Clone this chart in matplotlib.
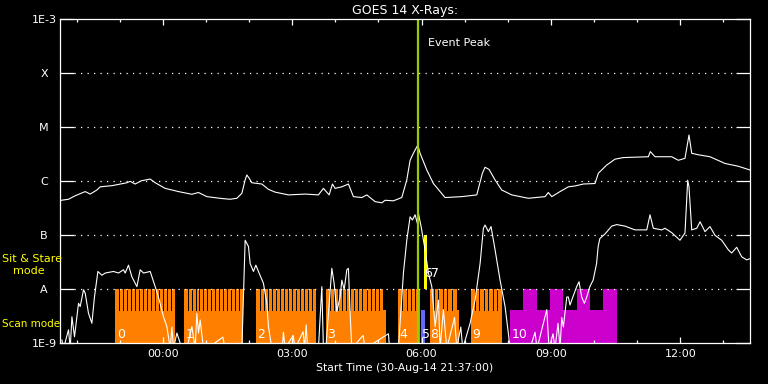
import matplotlib
matplotlib.use("Agg")
import matplotlib.pyplot as plt
from matplotlib.ticker import FixedLocator, NullLocator

# times are hours from 00:00 on 31-Aug-14 (plot starts 30-Aug-14 21:37)
t_start = -2.3833
t_end = 13.6167
peak_time = 5.92

floor = 8e-10  # below plot range

# GOES long channel (1-8 A)
long_t = [-2.355, -2.186, -2.031, -1.799, -1.683, -1.528, -1.451, -1.180, -0.832, -0.756,
          -0.640, -0.501, -0.292, -0.176, 0.056, 0.364, 0.675, 0.828, 1.022, 1.370,
          1.562, 1.718, 1.834, 1.910, 1.949, 2.003, 2.065, 2.297, 2.450, 2.605,
          2.914, 3.301, 3.609, 3.725, 3.857, 3.934, 3.996, 4.152, 4.305, 4.420,
          4.615, 4.731, 4.923, 5.079, 5.155, 5.348, 5.542, 5.658, 5.735, 5.811,
          5.913, 5.967, 6.122, 6.275, 6.546, 6.933, 7.281, 7.411, 7.473, 7.566,
          7.705, 7.860, 8.092, 8.477, 8.864, 8.941, 9.020, 9.212, 9.404, 9.560,
          9.752, 10.023, 10.100, 10.294, 10.487, 10.679, 11.259, 11.305, 11.414, 11.801,
          11.954, 12.109, 12.202, 12.265, 12.418, 12.689, 13.037, 13.345, 13.616]
long_f = [4.45e-7, 4.65e-7, 5.4e-7, 6.45e-7, 5.8e-7, 6.9e-7, 7.9e-7, 8.3e-7, 9.4e-7, 1.0e-6,
          8.9e-7, 1.02e-6, 1.1e-6, 9.4e-7, 7.4e-7, 6.45e-7, 5.75e-7, 6.2e-7, 5.2e-7, 4.8e-7,
          4.65e-7, 4.85e-7, 6.0e-7, 1.06e-6, 1.31e-6, 1.14e-6, 9.4e-7, 8.9e-7, 7.1e-7, 6.3e-7,
          5.6e-7, 5.8e-7, 5.6e-7, 7.4e-7, 5.6e-7, 8.9e-7, 7.4e-7, 7.9e-7, 8.9e-7, 5.2e-7,
          5.0e-7, 5.6e-7, 4.2e-7, 4.0e-7, 4.45e-7, 4.35e-7, 5.0e-7, 1.06e-6, 2.45e-6, 3.3e-6,
          4.7e-6, 3.3e-6, 1.62e-6, 9.1e-7, 5.0e-7, 5.2e-7, 5.6e-7, 1.41e-6, 1.82e-6, 1.66e-6,
          1.06e-6, 6.9e-7, 5.6e-7, 4.85e-7, 5.2e-7, 6.2e-7, 5.2e-7, 6.45e-7, 7.9e-7, 8.2e-7,
          8.9e-7, 9.1e-7, 1.41e-6, 2.0e-6, 2.57e-6, 2.75e-6, 2.85e-6, 3.55e-6, 2.85e-6, 2.85e-6,
          2.45e-6, 2.66e-6, 7.2e-6, 3.3e-6, 3.1e-6, 2.85e-6, 2.14e-6, 1.9e-6, 1.62e-6]

# GOES short channel (0.5-4 A)
short_t = [-2.339, -2.302, -2.186, -2.146, -2.107, -2.047, -1.954, -1.915, -1.838, -1.799,
           -1.723, -1.644, -1.584, -1.505, -1.412, -1.335, -1.143, -1.027, -0.911, -0.872,
           -0.795, -0.716, -0.600, -0.524, -0.447, -0.292, -0.176, -0.100, 0.016, 0.095,
           0.172, 0.211, 0.248, 0.327, 0.443, 0.559, 0.675, 0.751, 0.790, 0.828,
           0.867, 0.943, 1.030, 1.393, 1.446, 1.834, 1.910, 1.987, 2.026, 2.102,
           2.158, 2.218, 2.334, 2.413, 2.450, 2.529, 2.768, 2.798, 2.837, 3.023,
           3.069, 3.254, 3.289, 3.324, 3.359, 3.609, 3.688, 3.725, 3.781, 3.920,
           3.973, 4.036, 4.112, 4.152, 4.206, 4.268, 4.305, 4.344, 4.383, 4.645,
           4.690, 5.232, 5.260, 5.464, 5.580, 5.658, 5.735, 5.788, 5.851, 5.904,
           5.927, 5.990, 6.083, 6.159, 6.238, 6.315, 6.392, 6.431, 6.507, 6.585,
           6.766, 6.817, 6.910, 6.956, 7.126, 7.242, 7.358, 7.434, 7.473, 7.550,
           7.612, 7.705, 7.821, 7.937, 8.013, 8.053, 8.516, 8.632, 8.679, 8.904,
           8.957, 9.049, 9.096, 9.165, 9.212, 9.251, 9.289, 9.368, 9.404, 9.443,
           9.497, 9.598, 9.652, 9.714, 9.775, 9.831, 9.903, 9.980, 10.059, 10.096,
           10.135, 10.255, 10.410, 10.526, 10.718, 10.950, 11.222, 11.298, 11.375, 11.570,
           11.645, 11.801, 11.993, 12.109, 12.172, 12.202, 12.265, 12.381, 12.459, 12.573,
           12.689, 12.805, 12.960, 13.113, 13.192, 13.308, 13.424, 13.540, 13.616]
short_f = [1.15e-9, floor, 1.78e-9, floor, 3.1e-9, 1.32e-9, 5.5e-9, 4.8e-9, 9.8e-9, 8.5e-9,
           3.6e-9, 2.35e-9, 7.2e-9, 2.14e-8, 1.82e-8, 2.0e-8, 2.14e-8, 2.0e-8, 2.3e-8, 2.0e-8,
           2.8e-8, 1.7e-8, 1.12e-8, 2.3e-8, 2.0e-8, 2.14e-8, 1.12e-8, 7.2e-9, 3.1e-9, 2.04e-9,
           floor, 2.0e-9, floor, 1.55e-9, floor, floor, 2.04e-9, floor, 3.6e-9, 1.55e-9,
           2.7e-9, floor, floor, 1.3e-9, floor, floor, 8.1e-8, 6.2e-8, 3.0e-8, 2.14e-8,
           2.8e-8, 2.14e-8, 1.29e-8, 5.5e-9, 2.04e-9, floor, floor, 1.6e-9, floor, 1.4e-9,
           floor, 1.64e-9, floor, 2.2e-9, floor, floor, 1.12e-8, floor, floor, 2.45e-8,
           1.29e-8, 3.9e-9, 7.2e-9, 1.48e-8, 9.8e-9, 2.3e-8, 2.45e-8, 3.6e-9, floor, 1.4e-9,
           floor, 1.5e-9, floor, floor, 2.0e-8, 8.1e-8, 2.2e-7, 1.92e-7, 2.4e-7, 1.66e-7,
           2.57e-7, 1.45e-7, 5.4e-8, 2.0e-8, 1.12e-8, 2.04e-9, 6.3e-9, floor, 4.2e-9, floor,
           3.0e-9, floor, 2.0e-9, floor, 2.35e-9, 6.3e-9, 3.0e-8, 1.35e-7, 1.55e-7, 1.17e-7,
           1.45e-7, 5.4e-8, 1.48e-8, 4.8e-9, 1.55e-9, floor, floor, 1.6e-9, floor, 4.2e-9,
           floor, 1.5e-9, floor, 2.35e-9, floor, 3.0e-9, 2.0e-9, 7.2e-9, 7.2e-9, 5.1e-9,
           6.8e-9, 1.12e-8, 1.38e-8, 7.2e-9, 5.5e-9, 7.2e-9, 1.12e-8, 1.48e-8, 3.0e-8, 6.2e-8,
           8.7e-8, 1.06e-7, 1.48e-7, 1.58e-7, 1.48e-7, 1.26e-7, 1.26e-7, 2.4e-7, 1.35e-7, 1.26e-7,
           1.35e-7, 1.12e-7, 8.1e-8, 1.1e-7, 1.05e-6, 7.9e-7, 1.26e-7, 1.35e-7, 1.78e-7, 1.17e-7,
           1.45e-7, 1.0e-7, 8.1e-8, 5.4e-8, 4.7e-8, 6.0e-8, 4.0e-8, 3.5e-8, 3.7e-8]

# IRIS scan-mode observations (orange)
scan_start = [-1.103, 0.496, 2.165, 3.788, 5.464, 6.198, 7.149]
scan_raster_end = [0.287, 1.871, 3.556, 5.116, 5.967, 6.818, 7.874]
scan_end = [0.287, 1.871, 3.556, 5.178, 5.967, 6.878, 7.874]
scan_rasters = [15, 15, 15, 14, 5, 6, 7]

# other observations
blue_obs = (5.983, 6.083)
sns_obs = (6.059, 6.122)
magenta_start = 8.053
magenta_end = 10.526
magenta_high = [False, True, False, True, False, True, False, True]

# obs number labels: (text, time, mode)
obs_labels = [("0", -1.07, "scan"), ("1", 0.54, "scan"), ("2", 2.18, "scan"),
              ("3", 3.80, "scan"), ("4", 5.48, "scan"), ("5", 6.00, "scan"),
              ("6", 6.07, "sns"), ("7", 6.22, "sns"), ("8", 6.21, "scan"),
              ("9", 7.17, "scan"), ("10", 8.10, "scan")]

class_levels = [1e-9, 1e-8, 1e-7, 1e-6, 1e-5, 1e-4, 1e-3]
class_names = ["1E-9", "A", "B", "C", "M", "X", "1E-3"]
hour_ticks = [0, 3, 6, 9, 12]
hour_names = ["00:00", "03:00", "06:00", "09:00", "12:00"]

ORANGE = "#FF8000"
MAGENTA = "#CC00CC"
BLUE = "#6666FF"
YELLOW = "#FFFF00"
GREEN = "#99CC00"
scan_top = 4.1e-9
a_top = 1e-8
b_top = 1e-7
low = 1e-10

plt.rcParams["font.family"] = "DejaVu Sans"
plt.rcParams["font.size"] = 8

fig = plt.figure(figsize=(7.68, 3.84), dpi=100, facecolor="black")
ax = fig.add_axes([60 / 768, 1 - 343.3 / 384, 690 / 768, 324 / 384])
ax.set_facecolor("black")
ax.set_yscale("log")
ax.set_xlim(t_start, t_end)
ax.set_ylim(1e-9, 1e-3)

# scan blocks: base, raster comb up to A level, thin gaps between rasters
for s, re, e, n in zip(scan_start, scan_raster_end, scan_end, scan_rasters):
    ax.bar(s, scan_top - low, e - s, bottom=low, align="edge", color=ORANGE,
           linewidth=0, antialiased=False)
    ax.bar(s, a_top - low, re - s, bottom=low, align="edge", color=ORANGE,
           linewidth=0, antialiased=False)
    p = (re - s) / n
    gaps = [s + (i + 1) * p - 0.012 for i in range(n - 1)]
    ax.vlines(gaps, scan_top, a_top, colors="black", lw=0.4, antialiased=False)

seg = (magenta_end - magenta_start) / len(magenta_high)
for i, hi in enumerate(magenta_high):
    top = a_top if hi else scan_top
    ax.bar(magenta_start + i * seg, top - low, seg, bottom=low, align="edge",
           color=MAGENTA, linewidth=0, antialiased=False)

ax.bar(blue_obs[0], scan_top - low, blue_obs[1] - blue_obs[0], bottom=low,
       align="edge", color=BLUE, linewidth=0, antialiased=False)
ax.bar(sns_obs[0], b_top - a_top, sns_obs[1] - sns_obs[0], bottom=a_top,
       align="edge", color=YELLOW, linewidth=0, antialiased=False)

# class grid lines
for lev in class_levels[1:-1]:
    ax.axhline(lev, xmin=0.021, xmax=0.979, color="white", lw=0.9,
               dashes=(1, 4.2))

ax.plot(long_t, long_f, color="white", lw=0.8)
ax.plot(short_t, short_f, color="white", lw=0.8)

for txt, t, mode in obs_labels:
    yv = 1.7e-8 if mode == "sns" else 1.25e-9
    ax.text(t, yv, txt, color="white", fontsize=9, ha="left", va="baseline")

ax.axvline(peak_time, color=GREEN, lw=1.6)
ax.text(6.16, 3.6e-4, "Event Peak", color="white", fontsize=8, va="center")

# axes styling
for sp in ax.spines.values():
    sp.set_color("white")
    sp.set_linewidth(0.9)
ax.yaxis.set_major_locator(FixedLocator(class_levels))
ax.yaxis.set_minor_locator(NullLocator())
ax.set_yticklabels(class_names)
for lab in ax.get_yticklabels():
    lab.set_horizontalalignment("center")
ax.tick_params(axis="y", which="major", direction="in", length=10, width=0.9,
               left=True, right=True, colors="white", pad=11.5, labelsize=8)
ax.set_xticks(hour_ticks)
ax.set_xticklabels(hour_names)
ax.set_xticks(range(-2, 14), minor=True)
ax.tick_params(axis="x", which="major", direction="in", length=4.6, width=0.9,
               top=True, bottom=True, colors="white", pad=4, labelsize=8)
ax.tick_params(axis="x", which="minor", direction="in", length=2.4, width=0.9,
               top=True, bottom=True, colors="white")

ax.set_title("GOES 14 X-Rays:", color="white", fontsize=9, pad=4)
ax.set_xlabel("Start Time (30-Aug-14 21:37:00)", color="white", fontsize=7.8,
              labelpad=3)

fig.text(2 / 768, 1 - 259 / 384, "Sit & Stare", color=YELLOW, fontsize=8, va="center")
fig.text(13 / 768, 1 - 271 / 384, "mode", color=YELLOW, fontsize=8, va="center")
fig.text(2 / 768, 1 - 324 / 384, "Scan mode", color=YELLOW, fontsize=7.5, va="center")

fig.savefig("out.png", dpi=100, facecolor="black")
